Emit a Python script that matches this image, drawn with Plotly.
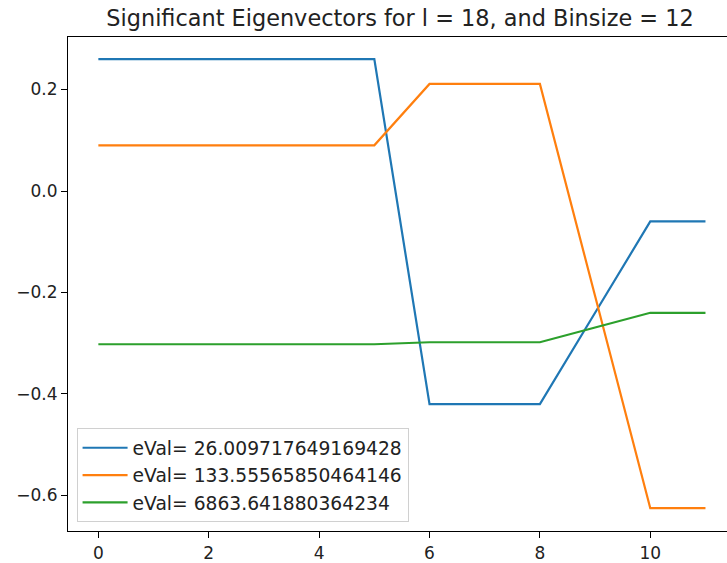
import plotly.graph_objects as go

x = list(range(12))
blue = [0.26, 0.26, 0.26, 0.26, 0.26, 0.26, -0.42, -0.42, -0.42, -0.24, -0.06, -0.06]
orange = [0.09, 0.09, 0.09, 0.09, 0.09, 0.09, 0.211, 0.211, 0.211, -0.207, -0.625, -0.625]
green = [-0.302, -0.302, -0.302, -0.302, -0.302, -0.302, -0.298, -0.298, -0.298, -0.269, -0.240, -0.240]
names = ["eVal= 26.009717649169428", "eVal= 133.55565850464146", "eVal= 6863.641880364234"]
colors = ["#1f77b4", "#ff7f0e", "#2ca02c"]

fig = go.Figure()
for i, (ys, n, c) in enumerate(zip([blue, orange, green], names, colors)):
    fig.add_trace(go.Scatter(x=x, y=ys, mode="lines", name=n, legendgroup=f"g{i}",
                             line=dict(color=c, width=2.2)))

fig.update_layout(
    width=727, height=563,
    margin=dict(l=68, r=0, t=37, b=30),
    paper_bgcolor="white", plot_bgcolor="white",
    font=dict(family="DejaVu Sans", size=17, color="#222"),
    title=dict(text="Significant Eigenvectors for l = 18, and Binsize = 12",
               x=400/727, xanchor="center", y=1-18/563, yanchor="middle",
               font=dict(size=22.4, family="DejaVu Sans", color="#222")),
    showlegend=True,
    legend=dict(x=0.013, y=0.018, xanchor="left", yanchor="bottom",
                bgcolor="rgba(255,255,255,0.8)", bordercolor="#d0d0d0", borderwidth=1,
                font=dict(size=18.7, family="DejaVu Sans", color="#222"),
                tracegroupgap=0, itemwidth=45),
    xaxis=dict(range=[-0.55, 11.39], tickmode="array", tickvals=[0, 2, 4, 6, 8, 10],
               showgrid=False, zeroline=False, showline=True, linecolor="black",
               linewidth=1.2, mirror=True, ticks="outside", ticklen=6,
               tickcolor="black", tickfont=dict(size=17)),
    yaxis=dict(range=[-0.670, 0.3035], tickmode="array",
               tickvals=[-0.6, -0.4, -0.2, 0.0, 0.2],
               ticktext=["\u22120.6", "\u22120.4", "\u22120.2", "0.0", "0.2"],
               showgrid=False, zeroline=False, showline=True, linecolor="black",
               linewidth=1.2, ticks="outside", ticklen=6, tickcolor="black",
               tickfont=dict(size=17)),
)

fig.write_html("out.html")
